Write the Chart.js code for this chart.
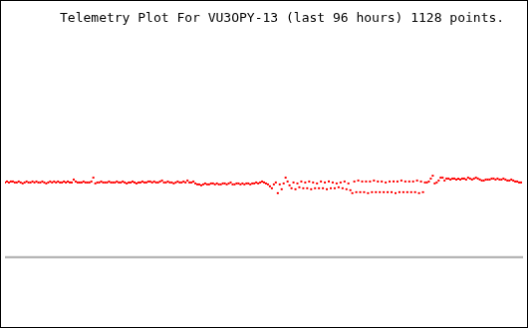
<!DOCTYPE html>
<html>
<head>
<meta charset="utf-8">
<script src="https://cdn.jsdelivr.net/npm/chart.js@4.4.1/dist/chart.umd.min.js"></script>
<style>
  body { margin: 0; background: #fff; }
  #plot { display: block; border: 1px solid #000; }
</style>
</head>
<body>
<canvas id="plot" width="528" height="328"></canvas>
<script>
const titleText = 'Telemetry Plot For VU3OPY-13 (last 96 hours) 1128 points.';
const spanHours = 96;

// telemetry readings, oldest first
const volts = [
  7.7,7.8,7.7,7.8,7.8,7.7,7.7,7.8,7.7,7.6,
  7.7,7.8,7.7,7.7,7.8,7.7,7.8,7.7,7.7,7.8,
  7.7,7.6,7.7,7.8,7.7,7.8,7.7,7.8,7.7,7.7,
  7.8,7.7,7.8,7.7,7.7,8.0,7.8,7.7,7.7,7.7,
  7.8,7.7,7.7,7.7,7.8,8.2,7.6,7.7,7.7,7.8,
  7.7,7.7,7.7,7.8,7.7,7.7,7.7,7.8,7.7,7.7,
  7.8,7.7,7.6,7.7,7.7,7.8,7.7,7.6,
  7.7,7.7,7.8,7.7,7.7,7.8,7.8,7.7,7.8,7.7,
  7.7,7.8,7.9,7.7,7.7,7.8,7.7,7.7,7.6,7.7,
  7.8,7.7,7.7,7.8,7.7,7.9,7.7,7.7,7.8,
  7.6,7.5,7.5,7.4,7.5,7.6,7.5,7.5,7.6,7.6,
  7.5,7.6,7.5,7.5,7.6,7.6,7.5,7.6,7.7,7.5,
  7.5,7.6,7.6,7.5,7.6,7.5,7.6,7.6,7.5,7.6,
  7.6,7.7,7.6,7.7,
  7.8,7.7,7.6,7.5,7.3,7.1,7.5,7.7,6.6,7.5,7.0,7.6,8.2,7.8,
  7.4,7.1,7.7,7.0,7.6,7.2,7.8,7.1,7.7,7.1,
  7.8,7.0,7.7,7.1,7.6,7.1,7.8,7.1,7.7,7.0,
  7.8,7.1,7.7,7.1,7.6,7.2,7.7,7.1,7.8,7.0,
  7.6,6.9,6.6,
  7.8,6.7,7.9,6.7,7.8,6.7,7.8,6.6,7.8,6.7,
  7.9,6.7,7.8,6.7,7.8,6.7,7.7,6.7,7.8,6.7,
  7.8,6.6,7.8,6.7,7.9,6.7,7.8,6.7,7.8,6.7,
  7.8,6.7,7.9,6.6,7.8,6.7,
  7.7,7.7,7.8,8.1,8.4,7.6,7.7,7.9,8.2,8.2,
  7.9,8.1,8.1,8.0,8.1,8.1,8.0,8.1,8.0,8.1,
  8.1,8.0,8.2,8.1,8.0,8.1,8.2,8.1,8.0,7.9,
  7.9,8.0,8.0,8.0,8.1,8.1,8.0,8.1,8.0,8.0,
  8.1,8.0,7.9,7.9,8.0,7.9,7.8,7.8,7.7,7.7
];

// samples are evenly spread over the 96 hour window
const hoursAgo = volts.map((v, i) => -spanHours + i * spanHours / volts.length);
const baseline = [{x: -spanHours, y: 0}, {x: 0, y: 0}];

const titlePlugin = {
  id: 'plotTitle',
  afterDraw(chart) {
    const ctx = chart.ctx;
    ctx.save();
    ctx.fillStyle = '#000';
    ctx.font = '13px "DejaVu Sans Mono", monospace';
    ctx.textAlign = 'left';
    ctx.textBaseline = 'alphabetic';
    ctx.fillText(titleText, 59, 21);
    ctx.restore();
  }
};

new Chart(document.getElementById('plot'), {
  type: 'scatter',
  data: {
    datasets: [
      {
        data: hoursAgo.map((h, i) => ({x: h, y: volts[i]})),
        pointStyle: 'rect',
        pointRadius: Math.SQRT2,
        borderWidth: 0,
        backgroundColor: '#ff0000',
        showLine: false
      },
      {
        type: 'line',
        data: baseline,
        borderColor: '#aaaaaa',
        borderWidth: 2,
        pointRadius: 0
      }
    ]
  },
  options: {
    responsive: false,
    animation: false,
    layout: { padding: 0 },
    plugins: { legend: { display: false }, tooltip: { enabled: false } },
    scales: {
      x: { type: 'linear', display: false, min: -spanHours, max: 0 },
      y: { display: false, min: -6.8, max: 26.0 }
    }
  },
  plugins: [titlePlugin]
});
</script>
</body>
</html>
